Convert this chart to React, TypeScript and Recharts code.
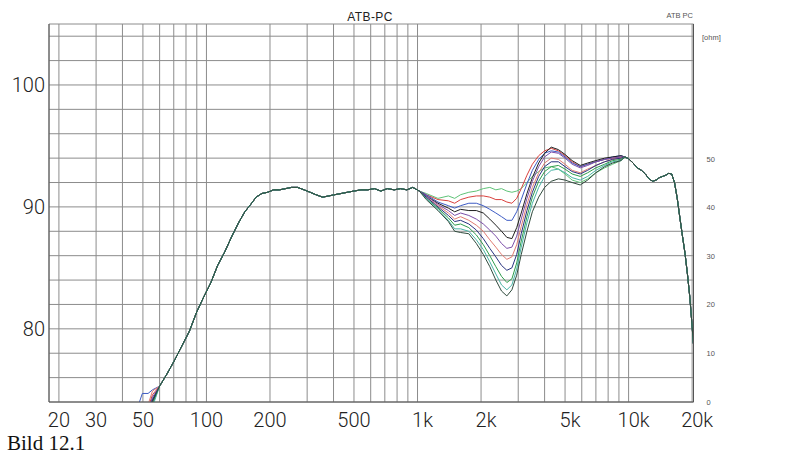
import { LineChart, Line, XAxis, YAxis, CartesianGrid } from 'recharts';

// frequency response, several tunings overlaid (SPL in dB over Hz)
const xGridTicks = [
  20, 30, 40, 50, 60, 70, 80, 90, 100, 200, 300, 400, 500, 600, 700, 800, 900,
  1000, 2000, 3000, 4000, 5000, 6000, 7000, 8000, 9000, 10000, 20000,
];
const xLabelValues = [20, 30, 50, 100, 200, 500, 1000, 2000, 5000, 10000, 20000];
const xLabelTexts = ['20', '30', '50', '100', '200', '500', '1k', '2k', '5k', '10k', '20k'];

const yGridTicks = [74, 76, 78, 80, 82, 84, 86, 88, 90, 92, 94, 96, 98, 100, 102, 104];
const yLabelValues = [80, 90, 100];
const ohmTicks = [0, 10, 20, 30, 40, 50];

// low end, where the curves still differ a little
const startF = [46, 49.7, 52.9, 55.5];

// shared part of all curves
const lowF = [
  60, 65, 70, 76, 83, 90, 97, 105, 113, 122, 132, 142, 152, 162, 172, 183, 195,
  208, 222, 237, 253, 270, 290, 310, 330, 355, 380, 405, 435, 465, 500, 540,
  580, 625, 670, 720, 775, 830, 890, 950, 1020,
];
const lowDb = [
  75.3, 76.3, 77.3, 78.5, 79.8, 81.4, 82.6, 83.8, 85.2, 86.3, 87.6, 88.7, 89.6,
  90.2, 90.8, 91.1, 91.2, 91.4, 91.4, 91.5, 91.6, 91.6, 91.4, 91.2, 91.0, 90.8,
  90.9, 91.0, 91.1, 91.2, 91.3, 91.4, 91.4, 91.5, 91.3, 91.5, 91.4, 91.5, 91.4,
  91.6, 91.3,
];

// crossover region, one row per curve
const midF = [
  1100, 1250, 1400, 1500, 1600, 1750, 1900, 2050, 2200, 2350, 2500, 2650, 2800,
  2950, 3100, 3300, 3500, 3750, 4000, 4300, 4650, 5000, 5400, 5900, 6400, 7000,
  7700, 8400, 9200,
];

const highF = [
  9600, 10000, 10500, 11000, 11500, 12000, 12500, 13000, 13500, 14000, 14500,
  15000, 15500, 16000, 16500, 17000, 17500, 18000, 18500, 19000, 19500, 20000, 20260,
];
const highDb = [
  94.1, 93.95, 93.6, 93.2, 93.0, 92.7, 92.3, 92.1, 92.2, 92.4, 92.5, 92.6, 92.75,
  92.7, 92.0, 90.7, 89.1, 87.6, 86.2, 84.5, 82.6, 80.2, 78.8,
];

const series = [
  {
    key: 'c0', color: '#5fc277',
    start: [70.2, 71.6, 73.1, 74.2],
    mid: [91.1, 90.7, 90.9, 90.7, 91.0, 91.2, 91.3, 91.5, 91.6, 91.4, 91.5, 91.3, 91.2, 91.3, 91.5, 92.0, 92.5, 92.9, 93.2, 93.3, 93.1, 92.7, 92.2, 92.0, 92.3, 92.8, 93.2, 93.5, 93.8],
  },
  {
    key: 'c1', color: '#d9413e',
    start: [70.5, 72.0, 73.5, 74.6],
    mid: [91.0, 90.6, 90.5, 90.3, 90.6, 90.8, 90.9, 90.9, 90.8, 90.6, 90.6, 90.4, 90.3, 90.7, 91.5, 92.6, 93.5, 94.2, 94.6, 94.8, 94.6, 94.2, 93.7, 93.3, 93.5, 93.7, 93.9, 94.0, 94.1],
  },
  {
    key: 'c2', color: '#3d5bc4',
    start: [73.0, 74.7, 74.7, 75.0],
    mid: [91.0, 90.4, 90.1, 89.9, 90.1, 90.3, 90.3, 90.1, 89.8, 89.5, 89.2, 88.9, 88.9, 89.6, 90.6, 91.9, 93.0, 93.9, 94.4, 94.6, 94.5, 94.1, 93.6, 93.3, 93.5, 93.7, 93.9, 94.1, 94.2],
  },
  {
    key: 'c3', color: '#1e1e1e',
    start: [70.0, 71.5, 73.0, 74.1],
    mid: [90.9, 90.3, 89.9, 89.6, 89.8, 89.7, 89.7, 89.5, 89.0, 88.5, 88.0, 87.5, 87.4, 88.3, 89.5, 91.1, 92.4, 93.6, 94.4, 94.9, 94.7, 94.3, 93.8, 93.4, 93.6, 93.8, 94.0, 94.1, 94.2],
  },
  {
    key: 'c4', color: '#7b4ea8',
    start: [70.3, 71.8, 73.3, 74.4],
    mid: [90.9, 90.2, 89.7, 89.3, 89.5, 89.3, 89.0, 88.6, 88.1, 87.6, 87.0, 86.6, 86.7, 87.6, 89.0, 90.7, 92.1, 93.3, 94.1, 94.5, 94.4, 94.0, 93.5, 93.2, 93.4, 93.7, 93.9, 94.0, 94.1],
  },
  {
    key: 'c5', color: '#e07b72',
    start: [70.8, 72.3, 73.8, 74.9],
    mid: [90.8, 90.1, 89.5, 89.0, 89.2, 88.9, 88.5, 88.0, 87.3, 86.7, 86.1, 85.7, 85.9, 86.9, 88.4, 90.2, 91.6, 92.8, 93.6, 94.0, 93.9, 93.5, 93.0, 92.8, 93.1, 93.4, 93.7, 93.9, 94.0],
  },
  {
    key: 'c6', color: '#28337f',
    start: [70.1, 71.6, 73.1, 74.2],
    mid: [90.8, 90.0, 89.3, 88.8, 88.9, 88.6, 88.1, 87.4, 86.6, 85.9, 85.2, 84.8, 85.0, 86.1, 87.8, 89.7, 91.2, 92.5, 93.3, 93.7, 93.7, 93.3, 92.9, 92.7, 93.0, 93.4, 93.7, 93.9, 94.0],
  },
  {
    key: 'c7', color: '#2e9c4c',
    start: [69.6, 71.0, 72.6, 73.8],
    mid: [90.7, 89.9, 89.1, 88.5, 88.6, 88.3, 87.7, 86.9, 86.0, 85.1, 84.3, 83.8, 84.1, 85.4, 87.2, 89.2, 90.8, 92.1, 92.9, 93.3, 93.4, 93.1, 92.7, 92.5, 92.8, 93.2, 93.5, 93.8, 93.9],
  },
  {
    key: 'c8', color: '#48b3a5',
    start: [69.4, 70.8, 72.4, 73.6],
    mid: [90.7, 89.8, 88.9, 88.2, 88.2, 88.0, 87.3, 86.5, 85.5, 84.5, 83.6, 83.2, 83.6, 84.9, 86.7, 88.7, 90.3, 91.6, 92.5, 93.0, 93.1, 92.8, 92.4, 92.2, 92.5, 93.0, 93.4, 93.7, 93.8],
  },
  {
    key: 'c9', color: '#2f4a3c',
    start: [69.8, 71.3, 72.8, 74.0],
    mid: [90.6, 89.7, 88.8, 88.0, 87.9, 87.8, 87.0, 86.1, 85.1, 84.0, 83.1, 82.7, 83.2, 84.4, 86.1, 88.0, 89.6, 90.8, 91.6, 92.1, 92.3, 92.2, 92.0, 91.8, 92.2, 92.8, 93.3, 93.6, 93.8],
  },
];

const rows = [
  ...startF.map((f, i) => ({ f, ...Object.fromEntries(series.map((s) => [s.key, s.start[i]])) })),
  ...lowF.map((f, i) => ({ f, ...Object.fromEntries(series.map((s) => [s.key, lowDb[i]])) })),
  ...midF.map((f, i) => ({ f, ...Object.fromEntries(series.map((s) => [s.key, s.mid[i]])) })),
  ...highF.map((f, i) => ({ f, ...Object.fromEntries(series.map((s) => [s.key, highDb[i]])) })),
];

const tickFont = 'Roboto, "Liberation Sans", Arial, sans-serif';

function XTick(props: any) {
  const { x, y, payload } = props;
  const idx = xLabelValues.indexOf(payload.value);
  if (idx < 0) return <g />;
  const label = xLabelTexts[idx];
  return (
    <text
      x={x}
      y={y}
      dy={14}
      dx={label.endsWith('k') ? 5 : 0}
      textAnchor="middle"
      fontSize={20}
      fontWeight={300}
      fontFamily={tickFont}
      fill="#222"
    >
      {label}
    </text>
  );
}

export default function App() {
  return (
    <div
      style={{
        position: 'absolute',
        left: 0,
        top: 0,
        width: 800,
        height: 463,
        background: '#fff',
        fontFamily: '"Liberation Sans", Arial, sans-serif',
      }}
    >
      <LineChart width={800} height={463} data={rows} margin={{ top: 24, right: 0, bottom: 0, left: 0 }}>
        <CartesianGrid stroke="#8c8c8c" strokeWidth={1} />
        <XAxis
          dataKey="f"
          type="number"
          scale="log"
          domain={[17.95, 20300]}
          allowDataOverflow
          ticks={xGridTicks}
          interval={0}
          height={61}
          tickSize={0}
          tickMargin={11}
          tick={<XTick />}
          axisLine={{ stroke: '#555' }}
        />
        <XAxis
          xAxisId="top"
          orientation="top"
          type="number"
          scale="log"
          domain={[17.95, 20300]}
          allowDataOverflow
          height={0}
          tick={false}
          tickLine={false}
          axisLine={{ stroke: '#555' }}
        />
        <YAxis
          type="number"
          domain={[74, 105]}
          allowDataOverflow
          ticks={yGridTicks}
          interval={0}
          width={49}
          tickSize={0}
          tickMargin={4}
          tickFormatter={(v: number) => (yLabelValues.includes(v) ? String(v) : '')}
          tick={{ fontSize: 20, fontWeight: 300, fill: '#222', fontFamily: tickFont }}
          axisLine={{ stroke: '#555' }}
        />
        <YAxis
          yAxisId="ohm"
          orientation="right"
          type="number"
          domain={[0, 77.8]}
          allowDataOverflow
          ticks={ohmTicks}
          interval={0}
          width={106.5}
          tickSize={0}
          tickMargin={13}
          tick={{ fontSize: 7.5, fill: '#555', fontFamily: '"Liberation Sans", Arial, sans-serif' }}
          axisLine={{ stroke: '#555' }}
        />
        {series.map((s) => (
          <Line
            key={s.key}
            type="linear"
            dataKey={s.key}
            stroke={s.color}
            strokeWidth={1}
            dot={false}
            isAnimationActive={false}
          />
        ))}
      </LineChart>
      <div style={{ position: 'absolute', left: 320, width: 100, top: 11, lineHeight: '12px', fontSize: 12, textAlign: 'center', color: '#222', letterSpacing: 0.4 }}>
        ATB-PC
      </div>
      <div style={{ position: 'absolute', right: 107, top: 12, lineHeight: '8px', fontSize: 7.5, color: '#555' }}>
        ATB PC
      </div>
      <div style={{ position: 'absolute', left: 702, top: 34, lineHeight: '8px', fontSize: 7.5, color: '#555' }}>
        [ohm]
      </div>
      <div
        style={{
          position: 'absolute',
          left: 7,
          top: 435,
          lineHeight: '17px',
          fontSize: 21,
          fontFamily: '"Liberation Serif", "Times New Roman", serif',
          color: '#111',
        }}
      >
        Bild 12.1
      </div>
    </div>
  );
}
